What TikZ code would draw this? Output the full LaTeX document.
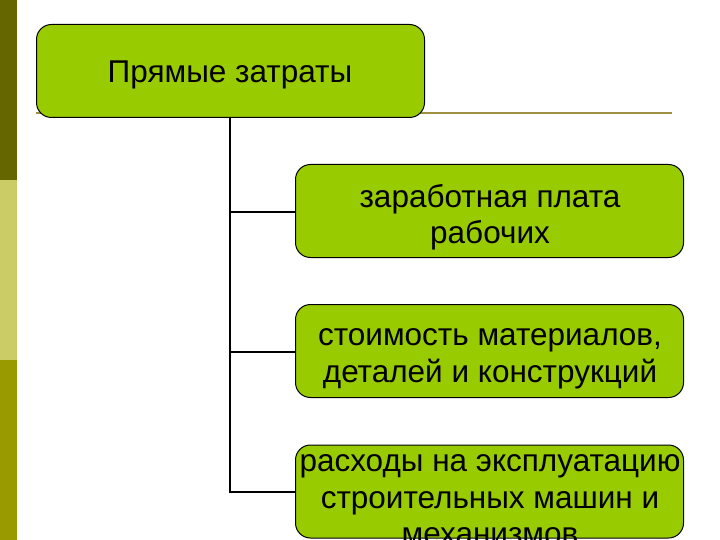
\documentclass[tikz,border=0pt]{standalone}
\usepackage{fontspec}
\setmainfont{Liberation Sans}
\definecolor{boxgreen}{HTML}{99CC00}
\definecolor{stripeA}{HTML}{666600}
\definecolor{stripeB}{HTML}{CCCC66}
\definecolor{stripeC}{HTML}{999900}
\definecolor{ruleC}{HTML}{A09040}
\begin{document}
\begin{tikzpicture}[x=1pt,y=-1pt,
  gbox/.style={draw=black,line width=1pt,fill=boxgreen,rounded corners=15pt,minimum width=388pt,minimum height=93pt,inner sep=0pt},
  txt/.style={font=\fontsize{31.5}{36.5}\selectfont,align=center,text=black},
  conn/.style={draw=black,line width=2pt}]
\useasboundingbox (0,0) rectangle (720,540);
\clip (0,0) rectangle (720,540);
\fill[stripeA] (0,0) rectangle (17,180);
\fill[stripeB] (0,180) rectangle (17,360);
\fill[stripeC] (0,360) rectangle (17,540);
\draw[ruleC,line width=2pt] (36,113) -- (672,113);
\node[gbox] (top) at (230.5,71) {};
\node[gbox] (b1) at (489.5,211) {};
\node[gbox] (b2) at (489.5,351) {};
\node[gbox] (b3) at (489.5,491.5) {};
\node[txt] (t0) at (230,75) {Прямые затраты};
\node[txt] (t1) at (490,217) {заработная плата\\рабочих};
\node[txt] (t2) at (490,359) {стоимость материалов,\\деталей и конструкций};
\node[txt] (t3) at (490,500) {расходы на эксплуатацию\\строительных машин и\\механизмов};
\coordinate (j0) at (230,117.5);
\coordinate (j1) at (230,212);
\coordinate (j2) at (230,352);
\coordinate (j3) at (230,492);
\draw[conn] (top.south -| j0) -- (j3) -- (b3.west |- j3);
\draw[conn] (j1) -- (b1.west |- j1);
\draw[conn] (j2) -- (b2.west |- j2);
\end{tikzpicture}
\end{document}
